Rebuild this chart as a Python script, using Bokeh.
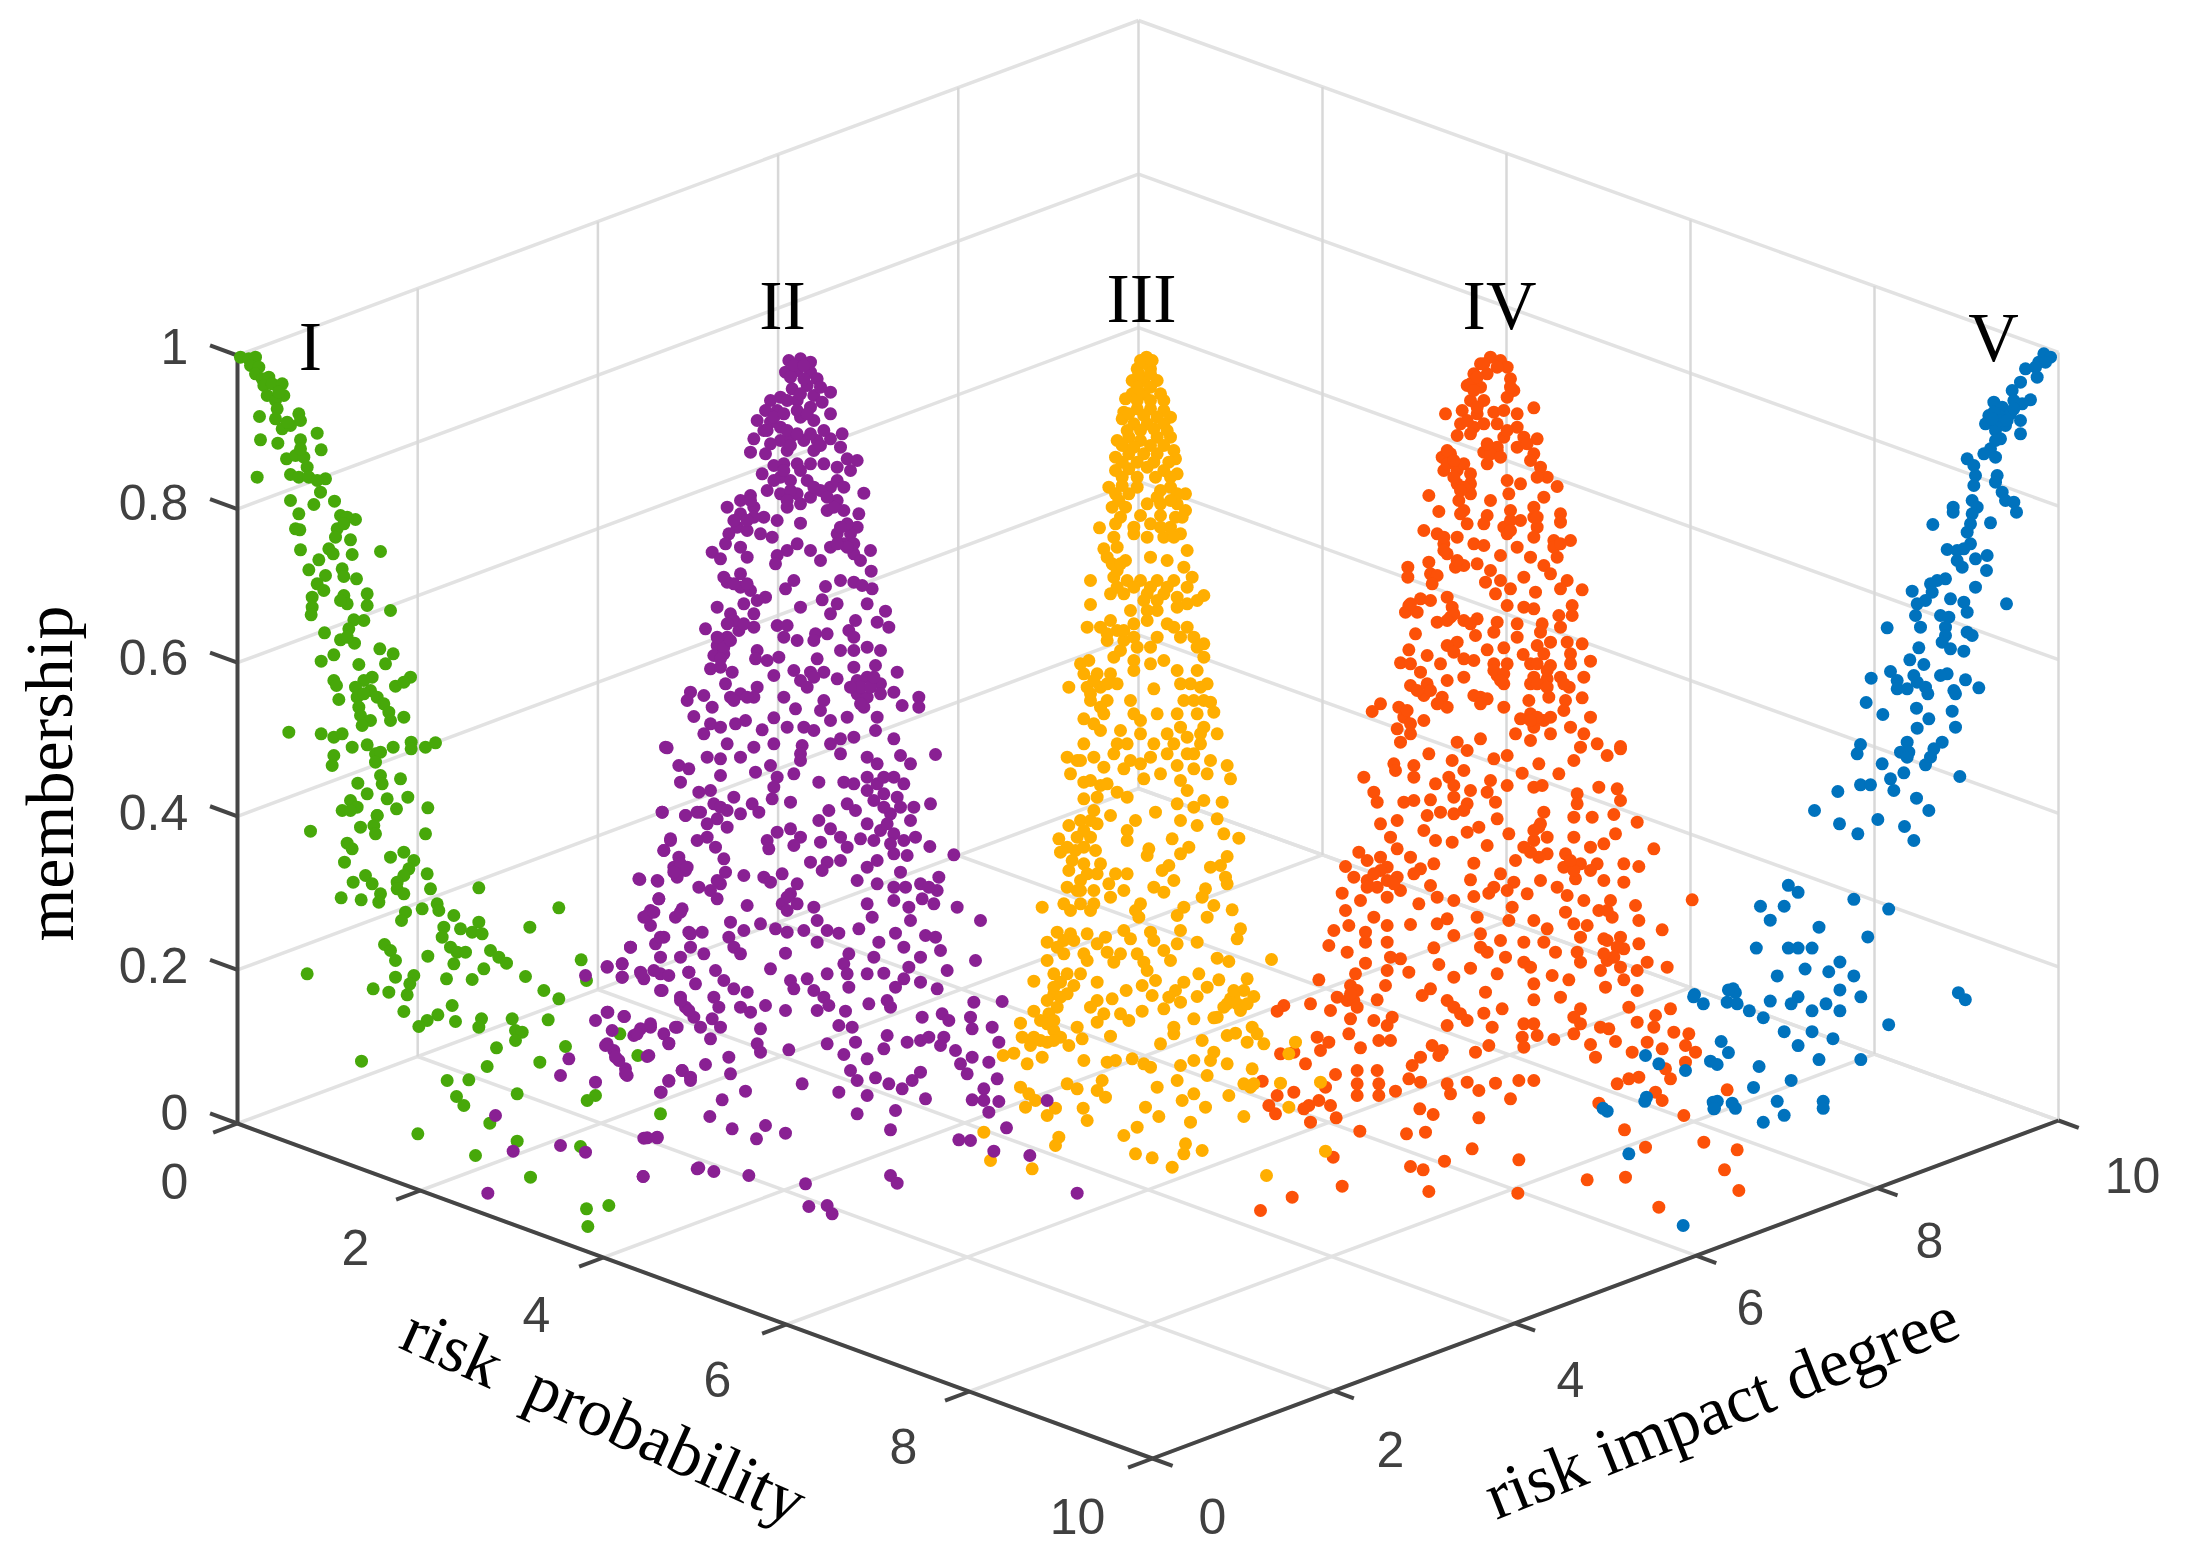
from bokeh.plotting import figure
from bokeh.embed import file_html
from bokeh.resources import INLINE
from bokeh.core.properties import value

# tick values
prob_ticks = [0, 2, 4, 6, 8, 10]
impact_ticks = [0, 2, 4, 6, 8, 10]
member_ticks = [0, 0.2, 0.4, 0.6, 0.8, 1]
member_labels = ["0", "0.2", "0.4", "0.6", "0.8", "1"]
prob_labels = ["0", "2", "4", "6", "8", "10"]
impact_labels = ["0", "2", "4", "6", "8", "10"]
cluster_names = ["I", "II", "III", "IV", "V"]

# projected point positions, grouped by the region they were read in
green_upper = [(120,110),(145,115),(165,110),(150,135),(175,140),(165,160),(185,175),(205,170),(190,195),(215,190),(245,190),(250,225),(200,225),(225,240),(235,215),(230,265),(177,288),(225,295),(245,325),(270,315),(295,280),(300,300),(260,305),(350,338),(180,358),(232,368),(300,358),(362,388),(258,415),(285,405),(310,410),(300,385),(320,440),(270,462),(295,470),(325,470),(170,470),(375,475),(350,480),(360,515),(270,540),(340,552),(402,542),(295,580),(285,625),(298,628),(420,585),(465,597),(440,590),(410,625),(430,610),(405,650),(450,658),(385,685),(398,700),(455,702),(540,693),(300,688),(355,718),(325,748),(425,745),(430,768),(468,775),(375,765),(350,790),(370,810),(335,830),(335,860),(332,883),(500,820),(500,855),(430,825),(440,850),(420,840),(570,870),(490,900),(460,898),(445,925),(372,937),(420,958),(462,968),(440,950),(538,985),(578,1000),(555,1030),(400,1003),(362,1022),(475,1032),(630,1070),(585,1097),(610,1085),(400,1080),(408,1095),(515,1070),(490,1080),(465,1100),(510,1110),(530,1130),(470,1130),(490,1120),(415,1137),(475,1160),(550,1150),(565,1175),(480,1185),(510,1200),(570,1200),(610,1190),(485,1215),(265,1235),(362,1240),(400,1250),(425,1240),(500,1273),(455,1280),(578,1280),(632,1265),(632,1285),(675,1280),(705,1267),(525,1300),(540,1295),(525,1325),(400,1305),(395,1335),(540,1365),(600,1375),(545,1390),(472,1388),(500,1420),(560,1435),(622,1430),(450,1440),(425,1470),(470,1460),(450,1470),(588,1465),(682,1462),(530,1485)]
green_lower = [(330,92),(530,45),(480,80),(520,75),(525,100),(675,100),(440,128),(455,145),(432,185),(570,170),(610,155),(640,180),(625,205),(610,225),(590,245),(590,265),(610,280),(680,220),(690,265),(495,225),(515,250),(458,245),(540,280),(535,305),(422,292),(482,298),(835,262),(1075,322),(615,335),(603,360),(665,325),(710,310),(715,330),(760,345),(730,380),(725,410),(780,385),(835,365),(815,395),(845,400),(988,380),(552,432),(570,450),(585,480),(682,467),(750,440),(770,455),(795,455),(760,490),(870,450),(895,470),(918,488),(1142,478),(850,505),(815,537),(738,535),(975,528),(320,520),(585,530),(640,525),(628,550),(620,583),(518,565),(565,575),(1158,540),(1030,570),(1075,595),(755,615),(610,633),(712,643),(680,660),(655,678),(765,663),(843,655),(835,680),(935,655),(1043,658),(945,690),(965,695),(945,720),(888,742),(1095,738),(483,782),(860,798),(1018,785),(740,840),(805,838),(768,888),(790,915),(950,880),(1185,885),(1160,900),(868,968),(652,1000),(950,1022),(825,1065),(1140,1038),(990,1130),(1380,940),(1158,1225),(1225,1215),(1162,1278),(1258,700),(1312,765)]

purple_upper = [(445,90),(480,85),(510,95),(435,125),(470,120),(510,125),(530,145),(570,185),(500,165),(455,175),(520,195),(540,170),(470,210),(510,230),(570,250),(545,215),(390,210),(420,200),(375,240),(410,240),(350,270),(390,275),(340,325),(370,300),(420,290),(480,260),(520,270),(330,365),(375,370),(420,330),(450,320),(490,330),(530,330),(570,325),(605,310),(600,350),(620,385),(650,390),(520,360),(440,360),(400,405),(430,400),(470,400),(510,400),(550,400),(590,410),(630,420),(365,430),(420,440),(450,450),(500,450),(570,470),(540,480),(380,480),(670,488),(330,495),(300,510),(260,530),(420,490),(470,490),(510,500),(590,510),(610,540),(440,530),(560,540),(655,550),(650,590),(300,550),(340,530),(370,560),(410,570),(480,578),(290,590),(320,600),(265,610),(360,610),(395,620),(590,610),(630,610),(610,640),(640,670),(690,660),(215,665),(240,685),(300,650),(320,680),(255,640),(470,640),(440,660),(410,675),(405,700),(510,660),(570,650),(540,690),(660,690),(692,722),(300,730),(260,755),(300,770),(330,780),(375,800),(350,810),(460,750),(435,775),(555,768),(600,750),(640,755),(695,775),(665,765),(545,808),(590,820),(570,850),(680,820),(230,830),(270,850),(340,850),(310,820),(480,830),(735,842),(710,875),(745,890),(195,895),(645,870),(625,900),(640,920),(295,900),(260,920),(230,945),(220,975),(250,970),(340,890),(350,960),(345,985),(410,885),(440,885),(430,920),(470,930),(525,910),(560,910),(520,930),(380,990),(415,980),(600,960),(640,960),(680,950),(720,960),(530,985),(210,1015),(240,1010),(275,1025),(705,1005),(640,1010),(770,1025),(460,1020),(510,1025),(550,1025),(400,1035),(480,1050),(590,1045),(650,1050),(680,1040),(720,1060),(255,1060),(350,1070),(270,1100),(300,1090),(340,1100),(150,1085),(190,1095),(140,1110),(215,1130),(160,1158),(430,1100),(465,1135),(550,1110),(540,1140),(650,1090),(680,1100),(670,1130),(760,1085),(835,1100),(835,1130),(785,1125),(400,1162),(315,1170),(285,1180),(210,1180),(190,1210),(240,1190),(365,1198),(440,1190),(490,1190),(520,1200),(570,1170),(620,1160),(710,1160),(705,1200),(600,1225),(640,1220),(760,1225),(75,1250),(260,1240),(340,1250),(400,1240),(485,1245),(570,1240)]
purple_dense = [(460,105),(490,105),(450,140),(490,145),(480,190),(440,210),(470,240),(500,250),(400,260),(380,300),(430,250),(440,300),(470,310),(550,300),(510,310),(390,340),(450,345),(540,345),(480,420),(430,420),(400,450),(450,480),(440,510),(480,520),(520,470),(590,450),(610,470),(580,530),(560,500),(340,560),(320,570),(280,570),(330,510),(620,580),(600,590),(640,640),(620,650),(590,640),(280,760),(320,760),(250,740),(280,870),(310,880),(260,880),(250,950),(230,920),(270,930),(240,985),(500,1070),(660,1070),(690,1070),(700,1040),(720,1090),(660,1120),(520,1040),(630,1070),(280,1110),(320,1100)]
purple_lower = [(200,22),(1005,42),(320,50),(360,55),(420,50),(600,40),(600,60),(720,40),(800,50),(830,70),(900,45),(930,70),(235,75),(265,85),(240,125),(360,105),(510,75),(465,95),(530,110),(580,100),(520,140),(515,175),(655,125),(730,125),(760,130),(800,110),(830,130),(880,110),(910,130),(850,160),(890,170),(800,150),(570,185),(400,170),(330,150),(295,155),(340,190),(300,215),(350,235),(455,190),(420,220),(475,215),(185,215),(255,225),(380,260),(740,190),(765,210),(685,210),(655,240),(690,265),(990,190),(940,200),(930,240),(870,220),(800,250),(840,270),(880,280),(910,300),(945,290),(988,318),(1060,343),(920,345),(880,340),(780,295),(820,300),(570,265),(530,275),(500,300),(600,290),(580,315),(505,325),(660,305),(720,290),(740,320),(720,360),(680,365),(630,365),(665,390),(210,300),(190,330),(320,290),(290,300),(345,320),(370,355),(235,350),(220,380),(255,390),(230,410),(375,395),(430,405),(115,415),(170,420),(360,430),(330,450),(350,475),(295,440),(490,410),(510,425),(545,400),(590,430),(570,460),(545,490),(590,490),(640,500),(770,420),(800,380),(830,360),(900,395),(830,430),(880,440),(915,440),(880,480),(1015,410),(1010,450),(960,430),(965,475),(1000,490),(175,475),(150,510),(130,530),(150,555),(245,505),(225,530),(440,495),(800,490),(815,530),(775,565),(925,500),(930,540),(1070,500),(1140,540),(390,545),(430,570),(480,550),(525,565),(560,575),(610,570),(650,540),(680,570),(715,578),(650,605),(385,590),(400,620),(420,640),(885,578),(835,605),(910,620),(975,585),(1005,590),(90,620),(190,590),(165,610),(265,575),(305,575),(270,620),(310,640),(240,650),(180,650),(555,638),(745,640),(730,670),(820,650),(1020,630),(960,650),(1125,660),(1040,690),(925,680),(20,680),(65,670),(65,710),(120,695),(130,715),(180,700),(205,705),(180,750),(265,695),(285,730),(345,690),(370,720),(510,685),(800,700),(850,698),(680,700),(740,700),(745,740),(570,720),(580,745),(620,715),(640,750),(670,770),(910,715),(885,740),(960,725),(1010,745),(400,745),(440,755),(240,770),(255,800),(340,770),(355,800),(495,795),(420,800),(450,815),(555,810),(650,810),(685,795),(805,790),(860,780),(870,800),(1120,785),(1205,783),(735,812),(20,815),(70,828),(280,830),(300,860),(335,835),(360,860),(965,830),(1025,820),(1045,840),(1110,830),(120,865),(150,860),(190,880),(230,860),(100,885),(205,908),(755,860),(715,855),(1115,865),(1175,860),(330,895),(480,865),(470,910),(480,935),(860,885),(1030,890),(1020,915),(920,905),(960,900),(985,890),(1195,905),(20,910),(40,930),(140,948),(565,928),(680,910),(765,905),(850,925),(1065,930),(730,942),(1115,950),(75,985),(80,1005),(55,960),(800,955),(1080,970),(1100,1000),(1165,965),(385,950),(315,972),(245,990),(270,1020),(390,1000),(205,1022),(182,1055),(605,1030),(750,990),(770,1020),(825,1012),(865,1030),(905,1045),(935,1020),(960,995),(1190,1015),(1150,1045),(715,1055),(435,1052),(800,1065),(365,1078),(975,1075),(1115,1078),(1150,1080),(1195,1083),(1340,1080),(1165,1115),(328,1128),(770,1120),(885,1110),(495,1155),(395,1165),(555,1178),(468,1195),(870,1168),(1218,1162),(130,1193),(170,1190),(1075,1198),(1110,1200),(1180,1232),(1288,1245),(295,1282),(340,1293),(445,1305),(128,1308),(870,1305),(890,1328),(615,1330),(1430,1358),(625,1398),(680,1395),(695,1420),(850,110),(850,200),(860,250),(870,310),(900,200),(820,180),(360,200),(380,210),(320,250),(560,470),(560,510),(350,420),(985,440)]
purple_left = [(1385,35),(1455,45),(1490,35),(1410,115),(1390,150),(1440,190),(1420,215),(1460,200),(1318,237),(1372,242),(1375,295),(1340,345),(1360,335),(1440,335),(1290,440),(1220,498),(1265,490),(1265,530),(1322,520),(1380,410),(1360,510),(1385,570),(1440,600),(1465,630),(1470,400),(1465,515),(1155,525),(1185,660),(1222,635),(1272,648),(1215,735),(1245,770),(1235,690),(1275,820),(1345,765),(1310,700),(1350,670),(1405,730),(1425,680),(1380,875),(1405,840),(1445,810),(1470,830),(1080,825),(1105,775),(1185,845),(885,945),(938,1052),(1080,1035),(1155,1055),(1340,1012),(1370,1012),(1328,1128),(1490,1105),(862,1178)]

yellow_upper = [(438,80),(410,115),(450,115),(440,100),(395,150),(430,150),(470,150),(395,190),(430,190),(480,190),(370,245),(410,235),(450,235),(490,240),(365,265),(400,280),(440,280),(490,280),(510,260),(350,330),(385,320),(420,330),(470,320),(510,320),(345,380),(385,370),(430,370),(470,370),(520,360),(525,385),(345,420),(385,415),(440,410),(490,420),(530,430),(325,470),(365,465),(410,470),(510,470),(555,490),(335,530),(375,530),(440,520),(480,520),(530,520),(555,540),(297,592),(345,580),(400,590),(450,580),(510,590),(545,560),(310,655),(350,650),(400,610),(440,620),(490,620),(540,610),(560,660),(335,700),(375,690),(450,680),(500,690),(550,710),(575,740),(270,750),(340,740),(380,750),(420,750),(470,750),(520,750),(560,770),(270,822),(330,790),(370,790),(440,790),(490,790),(560,820),(610,795),(590,810),(390,840),(440,840),(470,840),(530,830),(330,870),(260,890),(300,890),(350,900),(400,880),(440,870),(500,880),(560,890),(320,930),(370,930),(410,950),(470,920),(540,920),(610,940),(340,980),(400,990),(450,1000),(490,990),(610,980),(240,1000),(265,990),(250,1030),(290,1030),(330,1030),(400,1020),(530,1020),(590,1020),(205,1070),(260,1070),(300,1070),(350,1060),(460,1075),(540,1060),(620,1060),(270,1110),(320,1110),(390,1110),(550,1110),(610,1110),(630,1115),(250,1165),(310,1150),(400,1150),(470,1150),(530,1150),(640,1145),(300,1200),(360,1200),(420,1210),(500,1210),(540,1190),(650,1210),(610,1190),(250,1240),(350,1240),(460,1240),(520,1240),(600,1240)]
yellow_dense = [(420,90),(455,90),(415,130),(450,130),(410,170),(450,170),(375,205),(410,210),(450,210),(490,210),(385,250),(430,255),(470,260),(380,300),(420,300),(460,295),(500,300),(365,345),(400,350),(450,345),(490,345),(365,395),(410,395),(460,395),(505,395),(365,440),(410,440),(465,440),(510,440),(345,490),(385,490),(480,480),(530,490),(355,510),(470,500),(510,510),(360,560),(420,555),(480,555),(525,560),(340,620),(480,590),(520,620),(320,680),(350,720),(360,700),(400,770),(450,770),(500,770),(350,770),(430,810),(470,810),(530,800),(320,910),(370,900),(360,960),(400,920),(450,950),(520,890),(580,920),(590,950),(280,1050),(320,1060),(270,1090),(570,1060),(600,1070),(580,1110),(300,1130),(280,1180),(590,1150),(600,1210),(560,1220),(380,1240),(420,1170)]
yellow_lower = [(260,50),(290,60),(340,50),(400,40),(450,60),(510,50),(560,40),(620,40),(690,60),(740,75),(270,100),(310,125),(370,80),(430,85),(490,115),(540,100),(590,75),(640,85),(680,100),(750,115),(600,120),(360,135),(410,155),(310,175),(350,170),(440,170),(620,150),(670,180),(725,185),(590,190),(640,200),(525,215),(340,210),(390,225),(600,240),(710,235),(465,240),(300,240),(350,250),(265,255),(650,255),(575,295),(730,280),(775,293),(440,270),(235,295),(290,290),(330,290),(440,300),(505,325),(500,345),(240,335),(285,330),(345,330),(625,320),(600,340),(740,348),(360,370),(275,360),(310,370),(565,375),(545,390),(690,380),(720,375),(265,390),(350,400),(405,400),(440,400),(580,420),(735,410),(740,430),(300,420),(385,430),(520,440),(550,455),(675,445),(665,470),(290,450),(340,450),(430,450),(250,490),(185,500),(300,490),(390,470),(480,490),(465,510),(610,500),(590,525),(700,495),(755,508),(270,510),(330,510),(680,530),(475,530),(230,575),(270,580),(320,580),(375,590),(430,570),(450,595),(510,575),(600,570),(780,565),(770,595),(200,605),(250,600),(250,640),(310,640),(380,635),(420,640),(470,640),(520,600),(550,630),(590,610),(650,605),(200,660),(320,660),(400,665),(490,665),(570,660),(710,653),(745,663),(873,657),(220,700),(280,735),(500,690),(525,720),(655,700),(715,718),(800,715),(350,725),(160,722),(240,725),(610,725),(680,740),(485,735),(437,750),(585,750),(650,768),(790,750),(820,768),(220,760),(200,780),(260,760),(350,780),(395,775),(515,765),(565,770),(750,775),(160,812),(485,812),(550,805),(600,785),(730,800),(780,810),(330,800),(230,800),(420,820),(445,840),(370,820),(640,835),(700,832),(350,845),(205,820),(120,848),(580,860),(580,880),(815,860),(220,870),(290,860),(125,890),(390,887),(740,885),(765,878),(830,880),(850,910),(800,905),(540,910),(665,900),(150,915),(200,905),(240,890),(265,915),(305,895),(185,950),(100,938),(68,945),(310,960),(140,970),(700,935),(690,960),(380,965),(405,960),(455,955),(490,970),(510,980),(600,975),(640,960),(740,970),(815,985),(590,1020),(680,1005),(365,1020),(260,1030),(290,1045),(120,1040),(350,1050),(375,1070),(530,1040),(790,1030),(810,1040),(900,1028),(145,1060),(165,1080),(745,1065),(640,1060),(605,1080),(135,1100),(225,1103),(495,1100),(308,1103),(200,1125),(925,1100),(535,1128),(320,1140),(790,1128),(675,1100),(630,1145),(470,1160),(10,1175),(430,1185),(235,1190),(225,1215),(615,1210),(610,1240),(465,1240),(515,1252),(665,1230),(575,1280),(30,1260),(155,1285),(858,1305),(820,1030),(945,905),(925,940),(1020,1025),(300,60),(480,70),(640,40),(330,120),(380,130),(330,240),(310,270),(260,320),(310,320),(320,400),(260,440),(300,450),(340,490),(230,620),(280,600),(350,610),(220,740),(260,700),(300,700),(240,770),(180,840),(200,850),(220,840),(160,890),(180,900),(220,900),(760,770),(740,790),(770,790),(800,790),(760,750),(710,830)]
yellow_right = [(255,1232)]

red_upper = [(480,80),(450,100),(510,90),(530,110),(430,130),(470,130),(540,145),(410,165),(450,170),(550,180),(420,210),(460,210),(530,200),(395,240),(440,250),(490,245),(610,232),(345,250),(390,280),(430,290),(500,280),(560,250),(560,290),(380,315),(420,310),(520,320),(580,320),(620,325),(360,370),(335,380),(460,365),(500,360),(610,370),(340,420),(380,420),(470,400),(630,410),(650,440),(380,460),(420,460),(530,450),(570,460),(420,490),(480,510),(535,490),(640,500),(680,468),(295,495),(385,510),(325,543),(390,550),(470,555),(540,540),(610,530),(690,550),(690,575),(280,600),(320,610),(410,580),(460,580),(520,590),(570,570),(620,590),(720,630),(670,630),(340,640),(380,620),(430,640),(460,645),(530,610),(610,620),(350,670),(510,675),(560,650),(600,680),(680,680),(400,705),(440,700),(375,710),(295,695),(232,710),(232,740),(300,730),(320,735),(305,760),(480,720),(640,705),(580,740),(660,730),(710,750),(465,755),(510,750),(540,775),(495,790),(690,775),(755,778),(615,785),(270,805),(235,825),(225,845),(260,845),(300,810),(350,800),(365,830),(530,825),(725,825),(580,830),(610,835),(725,855),(685,855),(320,875),(360,860),(400,870),(440,865),(500,875),(560,880),(560,920),(635,880),(630,905),(690,890),(255,910),(490,905),(435,915),(380,935),(350,945),(620,945),(660,935),(710,935),(755,940),(235,958),(470,958),(520,952),(578,972),(290,975),(370,965),(640,970),(720,970),(780,992),(210,997),(240,1000),(330,1000),(400,985),(430,990),(490,1000),(530,1000),(600,1000),(660,1005),(720,1000),(270,1025),(500,1035),(610,1040),(650,1045),(690,1040),(760,1040),(350,1050),(400,1040),(240,1065),(290,1060),(520,1060),(600,1060),(716,1070),(280,1095),(335,1100),(450,1100),(430,1095),(470,1105),(655,1100),(755,1102),(595,1110),(705,1110),(150,1120),(125,1143),(205,1130),(350,1130),(450,1120),(520,1130),(700,1140),(220,1160),(280,1170),(600,1150),(570,1165),(780,1160),(640,1170),(200,1195),(240,1210),(610,1190),(720,1190),(760,1210),(555,1210),(660,1210),(450,1225),(380,1235),(210,1235),(600,1230),(870,1248),(800,1240),(750,1250)]
red_dense = [(500,110),(460,100),(420,160),(440,140),(430,180),(540,170),(440,230),(520,240),(410,270),(460,280),(530,300),(350,400),(400,400),(370,440),(400,470),(350,360),(420,430),(370,390),(500,350),(480,370),(510,380),(470,340),(560,350),(590,340),(600,390),(620,440),(390,480),(400,540),(540,570),(540,600),(610,560),(620,560),(340,620),(340,660),(380,690),(670,650),(690,640),(240,820),(370,850),(350,870),(420,880),(490,1020),(520,1030),(510,1050),(620,1000),(620,1060),(650,1020),(700,1060),(650,1070),(260,1080),(300,1080),(320,1120),(230,1140),(240,1180),(620,1160),(600,1170),(660,1160)]
red_lower = [(460,70),(465,90),(520,75),(520,110),(565,40),(635,60),(680,30),(760,55),(800,45),(845,98),(895,70),(955,100),(1000,60),(1140,25),(1100,45),(370,110),(400,155),(410,185),(490,185),(520,180),(585,130),(625,110),(640,135),(670,90),(690,150),(750,120),(800,135),(740,155),(765,185),(880,140),(905,135),(1010,160),(1075,140),(1130,145),(1140,180),(570,178),(640,170),(680,190),(1010,190),(1000,230),(1055,230),(1120,222),(1190,245),(420,250),(470,240),(560,225),(600,215),(640,220),(670,210),(770,235),(910,215),(895,260),(920,290),(920,340),(880,300),(850,320),(895,350),(1240,325),(1125,280),(1000,290),(1050,320),(975,340),(1090,310),(550,270),(585,300),(635,305),(680,275),(715,260),(740,315),(805,280),(450,290),(470,325),(355,335),(420,350),(315,378),(380,360),(440,380),(510,350),(580,370),(540,385),(700,368),(825,360),(970,380),(1020,370),(1070,370),(1150,370),(1195,378),(380,420),(410,440),(470,410),(520,400),(570,435),(340,410),(690,418),(780,400),(820,425),(760,440),(1005,415),(1090,420),(1150,425),(305,458),(360,480),(440,470),(480,450),(590,470),(535,490),(640,480),(700,468),(745,458),(800,450),(860,460),(900,420),(950,440),(980,465),(1030,480),(1110,480),(1185,495),(1075,510),(1355,478),(315,510),(400,530),(710,530),(815,500),(805,540),(880,540),(975,515),(1195,540),(1115,530),(325,555),(440,555),(510,552),(590,550),(620,535),(1000,550),(1040,555),(1265,568),(280,570),(375,575),(640,585),(720,580),(920,565),(1020,590),(1090,595),(1140,590),(440,605),(265,615),(375,605),(320,635),(580,622),(720,620),(780,600),(850,605),(910,605),(1195,610),(1150,625),(945,635),(740,635),(1010,635),(450,650),(480,655),(795,650),(850,665),(1020,665),(1100,660),(1220,665),(375,668),(440,690),(595,672),(690,683),(870,680),(1280,680),(1080,690),(1140,680),(1190,690),(505,695),(640,710),(235,718),(345,700),(770,700),(935,705),(985,718),(1150,718),(1095,740),(435,735),(330,735),(880,730),(1190,750),(570,745),(545,765),(735,755),(290,770),(350,750),(410,778),(960,770),(880,778),(620,780),(640,800),(130,795),(110,812),(210,790),(320,780),(270,810),(785,805),(1165,800),(1020,805),(1000,830),(1290,805),(1245,825),(660,820),(730,818),(330,835),(400,840),(455,830),(1190,845),(1020,850),(1240,860),(620,855),(680,840),(850,850),(880,850),(755,860),(1080,860),(1105,865),(1300,875),(1345,880),(230,890),(325,880),(440,855),(1000,880),(845,890),(890,885),(940,897),(1125,903),(1050,912),(415,900),(450,900),(265,905),(575,915),(605,930),(850,920),(745,915),(705,935),(1335,915),(360,922),(240,930),(120,940),(160,935),(1175,935),(1265,925),(1365,935),(1220,905),(1065,950),(595,945),(195,970),(540,950),(515,975),(1275,985),(1335,965),(285,1002),(350,990),(410,990),(1290,1015),(505,1015),(350,1030),(415,1030),(1165,1015),(1130,1030),(620,1030),(680,1025),(765,1028),(835,1020),(880,1020),(1195,1010),(65,1022),(540,1025),(255,1040),(160,1055),(465,1052),(630,1060),(715,1050),(350,1065),(415,1065),(1460,1048),(1245,1055),(110,1065),(810,1075),(1265,1080),(85,1095),(235,1080),(205,1095),(270,1095),(1075,1088),(105,1120),(190,1105),(538,1105),(578,1122),(715,1132),(287,1132),(1330,1125),(210,1145),(358,1172),(1152,1168),(498,1180),(555,1175),(1390,1205),(695,1225),(1215,1220),(1490,1228),(278,1250),(835,1258),(612,1262),(510,1278),(548,1288),(1040,1318),(1155,1310),(1452,1288),(305,1337),(565,1353),(155,1370),(832,1358),(60,1410),(1255,1400),(1495,1350),(420,390),(440,420),(400,400),(460,430),(380,440),(340,780),(330,760),(350,800),(1100,600),(1130,620),(1120,650),(1090,640),(1100,510),(1050,390),(1000,390),(990,360),(900,250),(880,270),(870,335)]

blue_upper = [(1090,40),(1110,50),(1075,65),(1095,65),(1035,85),(1065,80),(1070,110),(1020,125),(995,150),(1050,178),(1025,190),(940,185),(965,200),(1000,180),(925,225),(955,225),(990,220),(1020,240),(915,250),(945,250),(975,255),(1020,280),(945,270),(960,295),(930,325),(910,340),(945,350),(860,355),(880,375),(885,405),(880,435),(950,405),(945,425),(965,455),(975,480),(1000,485),(875,480),(890,500),(1008,515),(818,500),(818,515),(875,520),(870,550),(757,552),(930,547),(860,575),(870,610),(800,627),(830,630),(850,625),(920,645),(885,655),(830,660),(845,680),(918,690),(795,715),(770,720),(750,730),(885,740),(695,752),(755,755),(735,780),(710,790),(810,775),(850,785),(978,790),(860,815),(780,825),(805,830),(705,825),(720,860),(620,862),(795,860),(795,885),(860,875),(875,885),(785,905),(810,925),(850,932),(715,922),(688,958),(730,972),(630,993),(800,1000),(780,1005),(700,1005),(572,1013),(650,1020),(855,1018),(710,1025),(650,1045),(680,1045),(735,1040),(742,1060),(895,1042),(820,1050),(825,1060),(557,1086),(708,1103),(815,1112),(607,1122),(745,1135),(710,1163),(825,1160),(540,1212),(530,1240),(680,1205),(660,1235),(685,1235),(680,1250),(785,1205),(760,1225),(750,1250),(735,1273),(605,1270),(670,1297),(838,1308),(630,1315),(640,1350),(540,1333),(570,1333),(472,1353),(708,1373),(402,1410),(745,1410),(592,1437),(477,1450),(672,1458),(532,1480),(700,1500),(940,215),(960,240),(935,235),(1000,205),(980,240),(945,300)]
blue_lower = [(1362,762),(1478,745),(1460,785),(1490,790),(1442,903),(1410,962),(1430,972),(1215,945),(1255,970),(1335,990),(1218,1070),(1100,1112),(1418,1085),(1420,1105),(1475,1088),(1165,1240),(1328,1455)]
blue_middle = [(1283,635),(1263,650),(1355,652),(1330,645),(1305,665),(1283,680),(1260,680),(1340,672),(1295,695),(1312,697),(1275,700),(1320,690),(1245,712),(1270,718),(1290,715),(1335,715),(1300,725),(1320,725),(1265,730),(1280,740),(1355,735),(1315,745),(1290,750),(1405,712),(1410,717),(1240,755),(1262,765),(1305,760),(1335,760),(1285,775),(1258,780),(1232,790),(1245,795),(1215,715),(1222,720),(1308,790),(1308,795),(1275,790),(1280,800),(1265,805),(1150,795),(1180,790),(1230,795),(1240,710),(1255,725),(1290,680),(1300,680),(1320,710),(1330,700),(1310,720),(1300,740),(1290,640),(1280,650),(1270,660),(1285,720)]


def place(points, ox, oy, sx=3.0, sy=3.0):
    return [ox + a / sx for a, _ in points], [oy + b / sy for _, b in points]


def merge(*parts):
    xs, ys = [], []
    for a, b in parts:
        xs += a
        ys += b
    return xs, ys


green = merge(place(green_upper, 200, 320), place(green_lower, 200, 800))
purple = merge(place(purple_upper, 640, 330), place(purple_dense, 640, 330), place(purple_lower, 600, 740),
               place(purple_left, 200, 800))
yellow = merge(place(yellow_upper, 1000, 330), place(yellow_dense, 1000, 330), place(yellow_lower, 980, 740),
               place(yellow_right, 1240, 740))
red = merge(place(red_upper, 1330, 330), place(red_dense, 1330, 330), place(red_lower, 1240, 740))
blue = merge(place(blue_upper, 1680, 340), place(blue_lower, 1240, 740),
             place(blue_middle, 0, 0, 1568 / 2185, 1568 / 2185))

# orthographic corners of the floor (p = probability, i = impact) on the page
C00, C10, C01, C11 = (237, 1123), (1152, 1458), (1138, 788), (2058, 1120)
Z_SPAN = 768


def P(p, i, z=0.0):
    u, v = p / 10, i / 10
    x = (1-u)*(1-v)*C00[0] + u*(1-v)*C10[0] + (1-u)*v*C01[0] + u*v*C11[0]
    y = (1-u)*(1-v)*C00[1] + u*(1-v)*C10[1] + (1-u)*v*C01[1] + u*v*C11[1]
    return x, y - Z_SPAN * z


def seg(a, b):
    return [a[0], b[0]], [a[1], b[1]]


W, H = 2177, 1550
p = figure(width=W, height=H, x_range=(0, W), y_range=(H, 0),
           output_backend="svg", toolbar_location=None, min_border=0,
           outline_line_color=None, background_fill_color="white")
p.axis.visible = False
p.grid.visible = False

thick_x, thick_y, thin_x, thin_y = [], [], [], []
for t in prob_ticks:
    if t == 0:
        continue
    a, b = seg(P(t, 0), P(t, 10))
    thick_x.append(a); thick_y.append(b)
    if t < 10:
        a, b = seg(P(t, 10), P(t, 10, 1))
        thin_x.append(a); thin_y.append(b)
for t in impact_ticks:
    if t == 10:
        a, b = seg(P(0, 10), P(0, 10, 1))
        thin_x.append(a); thin_y.append(b)
        a, b = seg(P(10, 10), P(10, 10, 1))
        thin_x.append(a); thin_y.append(b)
        a, b = seg(P(0, 10), P(10, 10))
        thick_x.append(a); thick_y.append(b)
        continue
    if t > 0:
        a, b = seg(P(0, t), P(0, t, 1))
        thin_x.append(a); thin_y.append(b)
    a, b = seg(P(0, t), P(10, t))
    thick_x.append(a); thick_y.append(b)
for z in member_ticks:
    a, b = seg(P(0, 0, z), P(0, 10, z))
    thick_x.append(a); thick_y.append(b)
    a, b = seg(P(0, 10, z), P(10, 10, z))
    thick_x.append(a); thick_y.append(b)

p.multi_line(thick_x, thick_y, line_color="#e2e2e2", line_width=3.5)
p.multi_line(thin_x, thin_y, line_color="#d8d8d8", line_width=2.5)

ax_x, ax_y = [], []
for s in [seg(P(0, 0), P(10, 0)), seg(P(10, 0), P(10, 10)), seg(P(0, 0), P(0, 0, 1))]:
    ax_x.append(s[0]); ax_y.append(s[1])
for t in prob_ticks:
    s = seg(P(t, 0), P(t, -0.27))
    ax_x.append(s[0]); ax_y.append(s[1])
for t in impact_ticks:
    s = seg(P(10, t), P(10.22, t))
    ax_x.append(s[0]); ax_y.append(s[1])
for z in member_ticks:
    s = seg(P(0, 0, z), P(-0.3, 0, z))
    ax_x.append(s[0]); ax_y.append(s[1])
p.multi_line(ax_x, ax_y, line_color="#454545", line_width=4)

DOT = 13
p.scatter(red[0], red[1], size=DOT, color="#FC5108", line_color=None)
p.scatter(blue[0], blue[1], size=DOT, color="#0072BD", line_color=None)
p.scatter(yellow[0], yellow[1], size=DOT, color="#FFAE00", line_color=None)
p.scatter(green[0], green[1], size=DOT, color="#47A80A", line_color=None)
p.scatter(purple[0], purple[1], size=DOT, color="#892093", line_color=None)

TICK = "#404040"
TF = value("Liberation Sans")
SERIF = value("Liberation Serif")
m_x = [174, 153, 153, 153, 153, 174]
m_y = [1112, 965, 812, 657, 502, 346]
p.text(m_x, m_y, text=member_labels, text_font=TF, text_font_size="50px", text_color=TICK,
       text_align="center", text_baseline="middle")
p.text([174, 355, 536, 717, 903, 1077], [1181, 1247, 1314, 1379, 1446, 1516], text=prob_labels,
       text_font=TF, text_font_size="50px", text_color=TICK, text_align="center", text_baseline="middle")
p.text([1212, 1390, 1570, 1750, 1929, 2132], [1516, 1449, 1379, 1307, 1240, 1175], text=impact_labels,
       text_font=TF, text_font_size="50px", text_color=TICK, text_align="center", text_baseline="middle")

p.text([310, 782, 1141, 1499, 1993], [346, 305, 298, 305, 337], text=cluster_names,
       text_font=SERIF, text_font_size="70px", text_color="black",
       text_align="center", text_baseline="middle")

p.text([49], [773], text=["membership"], angle=1.5708, text_font=SERIF, text_font_size="68px",
       text_color="black", text_align="center", text_baseline="middle")
p.text([604], [1415], text=["risk\u00a0\u00a0probability"], angle=-0.424, text_font=SERIF, text_font_size="68px",
       text_color="black", text_align="center", text_baseline="middle")
p.text([1721], [1406], text=["risk impact degree"], angle=0.375, text_font=SERIF, text_font_size="68px",
       text_color="black", text_align="center", text_baseline="middle")

open("out.html", "w").write(file_html(p, INLINE))
